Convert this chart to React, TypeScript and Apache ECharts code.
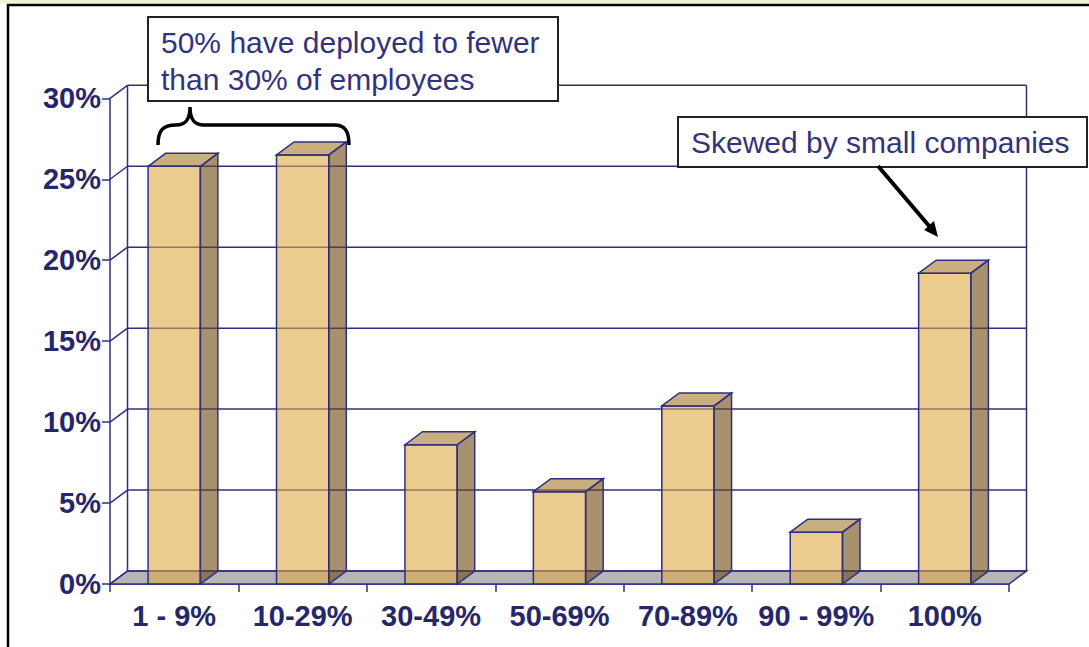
import React, { useEffect, useRef } from "react";
import * as echarts from "echarts";

const categories = ["1 - 9%", "10-29%", "30-49%", "50-69%", "70-89%", "90 - 99%", "100%"];
const values = [25.8, 26.5, 8.6, 5.7, 11.0, 3.2, 19.2];
const yTicks = [0, 5, 10, 15, 20, 25, 30];
const calloutLeft = ["50% have deployed to fewer", "than 30% of employees"];
const calloutRight = "Skewed by small companies";

const NAVY = "#2f2f80";
const LABEL = "#26266a";
const DX = 17.5;
const DY = -13;
const FONT = "'Liberation Sans', Arial, sans-serif";

echarts.graphic.registerShape(
  "brace",
  echarts.graphic.extendPath(
    "M158,145 C158,130 163,125 176,125 C186,125 190,119 190,107 C190,119 194,125 204,125 L334,125 C345,125 349,131 349,145",
    {}
  )
);

export default function App() {
  const ref = useRef<HTMLDivElement>(null);
  useEffect(() => {
    if (!ref.current) return;
    const chart = echarts.init(ref.current, null, { renderer: "svg" });
    const n = categories.length;
    const option: any = {
      animation: false,
      backgroundColor: "#ffffff",
      grid: { left: 110, top: 98.3, width: 899, height: 485.7 },
      xAxis: {
        type: "category",
        data: categories,
        boundaryGap: true,
        axisLine: { show: true, lineStyle: { color: NAVY, width: 1.5 } },
        axisTick: { show: true, length: 8, interval: 0, lineStyle: { color: NAVY, width: 1.5 } },
        axisLabel: {
          interval: 0,
          margin: 17,
          color: LABEL,
          fontFamily: FONT,
          fontWeight: "bold",
          fontSize: 29,
        },
        splitLine: { show: false },
      },
      yAxis: {
        type: "value",
        min: 0,
        max: 30,
        interval: 5,
        axisLine: { show: true, lineStyle: { color: NAVY, width: 1.5 } },
        axisTick: { show: true, length: 8, lineStyle: { color: NAVY, width: 1.5 } },
        axisLabel: {
          margin: 9,
          color: LABEL,
          fontFamily: FONT,
          fontWeight: "bold",
          fontSize: 29,
          formatter: "{value}%",
        },
        splitLine: { show: false },
      },
      series: [
        {
          type: "custom",
          clip: false,
          silent: true,
          data: [[0, 0]],
          renderItem: (params: any, api: any) => {
            const c0 = api.coord([0, 0]);
            const bw = api.size([1, 0])[0];
            const L = c0[0] - bw / 2;
            const R = L + bw * n;
            const y0 = c0[1];
            const yTop = api.coord([0, 30])[1];
            return {
              type: "group",
              children: [
                {
                  type: "polygon",
                  shape: {
                    points: [
                      [L, y0],
                      [R, y0],
                      [R + DX, y0 + DY],
                      [L + DX, y0 + DY],
                    ],
                  },
                  style: { fill: "#b6b6b6", stroke: NAVY, lineWidth: 1.5 },
                },
                {
                  type: "line",
                  shape: { x1: L + DX, y1: y0 + DY, x2: L + DX, y2: yTop + DY },
                  style: { stroke: NAVY, lineWidth: 1.5 },
                },
                {
                  type: "line",
                  shape: { x1: R + DX, y1: y0 + DY, x2: R + DX, y2: yTop + DY },
                  style: { stroke: NAVY, lineWidth: 1.5 },
                },
              ],
            };
          },
          z: 1,
        },
        {
          type: "custom",
          clip: false,
          silent: true,
          data: yTicks.map((v) => [0, v]),
          renderItem: (params: any, api: any) => {
            const c = api.coord([0, api.value(1)]);
            const bw = api.size([1, 0])[0];
            const L = c[0] - bw / 2;
            const R = L + bw * n;
            const y = c[1];
            return {
              type: "group",
              children: [
                {
                  type: "line",
                  shape: { x1: L + DX, y1: y + DY, x2: R + DX, y2: y + DY },
                  style: { stroke: NAVY, lineWidth: 1.5 },
                },
                {
                  type: "line",
                  shape: { x1: L, y1: y, x2: L + DX, y2: y + DY },
                  style: { stroke: NAVY, lineWidth: 1.5 },
                },
              ],
            };
          },
          z: 2,
        },
        {
          type: "custom",
          clip: false,
          data: values.map((v, i) => [i, v]),
          renderItem: (params: any, api: any) => {
            const i = api.value(0);
            const v = api.value(1);
            const base = api.coord([i, 0]);
            const top = api.coord([i, v]);
            const bw = api.size([1, 0])[0];
            const w = bw * 0.407;
            const x0 = base[0] - w / 2;
            const x1 = base[0] + w / 2;
            const y0 = top[1];
            const y1 = base[1];
            const st = { stroke: NAVY, lineWidth: 1.5 };
            return {
              type: "group",
              children: [
                {
                  type: "rect",
                  shape: { x: x0, y: y0, width: w, height: y1 - y0 },
                  style: { ...st, fill: "rgba(222,168,67,0.6)" },
                },
                {
                  type: "polygon",
                  shape: {
                    points: [
                      [x1, y0],
                      [x1 + DX, y0 + DY],
                      [x1 + DX, y1 + DY],
                      [x1, y1],
                    ],
                  },
                  style: { ...st, fill: "rgba(110,72,13,0.6)" },
                },
                {
                  type: "polygon",
                  shape: {
                    points: [
                      [x0, y0],
                      [x0 + DX, y0 + DY],
                      [x1 + DX, y0 + DY],
                      [x1, y0],
                    ],
                  },
                  style: { ...st, fill: "rgba(165,120,43,0.6)" },
                },
              ],
            };
          },
          z: 3,
        },
      ],
      graphic: {
        elements: [
          { type: "rect", shape: { x: 0, y: 0, width: 1089, height: 3 }, style: { fill: "#f3f3cc" }, z: 0 },
          {
            type: "rect",
            shape: { x: 8, y: 5, width: 1120, height: 700 },
            style: { fill: "none", stroke: "#000", lineWidth: 2.5 },
            z: 10,
          },
          {
            type: "rect",
            shape: { x: 148, y: 17, width: 410, height: 84 },
            style: { fill: "#fff", stroke: "#222", lineWidth: 2 },
            z: 20,
          },
          {
            type: "text",
            x: 161,
            y: 42,
            style: { text: calloutLeft[0], fill: "#33337c", font: `30px ${FONT}`, textVerticalAlign: "middle" },
            z: 21,
          },
          {
            type: "text",
            x: 161,
            y: 79,
            style: { text: calloutLeft[1], fill: "#33337c", font: `30px ${FONT}`, textVerticalAlign: "middle" },
            z: 21,
          },
          {
            type: "brace",
            x: 0,
            y: 0,
            shape: {},
            style: { fill: "none", stroke: "#000", lineWidth: 3.5 },
            z: 20,
          },
          {
            type: "rect",
            shape: { x: 678, y: 117, width: 409, height: 50 },
            style: { fill: "#fff", stroke: "#222", lineWidth: 2 },
            z: 20,
          },
          {
            type: "text",
            x: 691,
            y: 142,
            style: { text: calloutRight, fill: "#33337c", font: `30px ${FONT}`, textVerticalAlign: "middle" },
            z: 21,
          },
          {
            type: "line",
            shape: { x1: 878, y1: 166, x2: 930, y2: 227 },
            style: { stroke: "#000", lineWidth: 4 },
            z: 20,
          },
          {
            type: "polygon",
            shape: { points: [[938, 237], [924, 230], [934, 221]] },
            style: { fill: "#000" },
            z: 20,
          },
        ],
      },
    };
    chart.setOption(option);
    return () => chart.dispose();
  }, []);
  return (
    <div
      ref={ref}
      style={{ position: "fixed", left: 0, top: 0, width: 1089, height: 647, background: "#fff" }}
    />
  );
}
